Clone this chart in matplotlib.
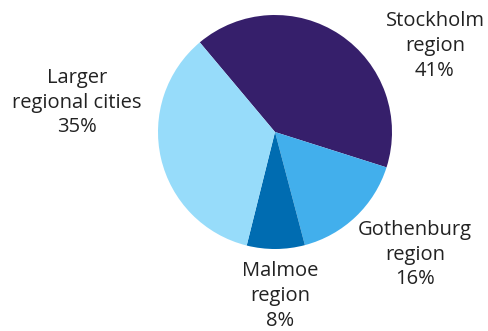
import matplotlib
matplotlib.use('Agg')
import matplotlib.pyplot as plt

regions = ['Stockholm\nregion', 'Gothenburg\nregion', 'Malmoe\nregion', 'Larger\nregional cities']
shares = [41, 16, 8, 35]
colors = ['#361f6b', '#42afec', '#006cb1', '#97dcfa']

W, H = 489, 331
fig = plt.figure(figsize=(W / 100, H / 100), dpi=100)

# pie centre and radius in pixels
cx, cy, r = 275, 132, 117
ax = fig.add_axes([(cx - r) / W, (H - cy - r) / H, 2 * r / W, 2 * r / H])
ax.pie(shares, colors=colors, startangle=130, counterclock=False,
       wedgeprops=dict(linewidth=0))
ax.set_xlim(-1, 1)
ax.set_ylim(-1, 1)
ax.set_aspect('equal')
ax.axis('off')

# label block centres in pixels
label_pos = [(435, 46), (415, 255), (280, 296), (77, 103)]
for name, v, (x, y) in zip(regions, shares, label_pos):
    fig.text(x / W, 1 - y / H, f'{name}\n{v}%', ha='center', va='center',
             fontsize=14.5, family='Open Sans', color='#222222',
             linespacing=1.3)

fig.savefig('out.png', dpi=100)
